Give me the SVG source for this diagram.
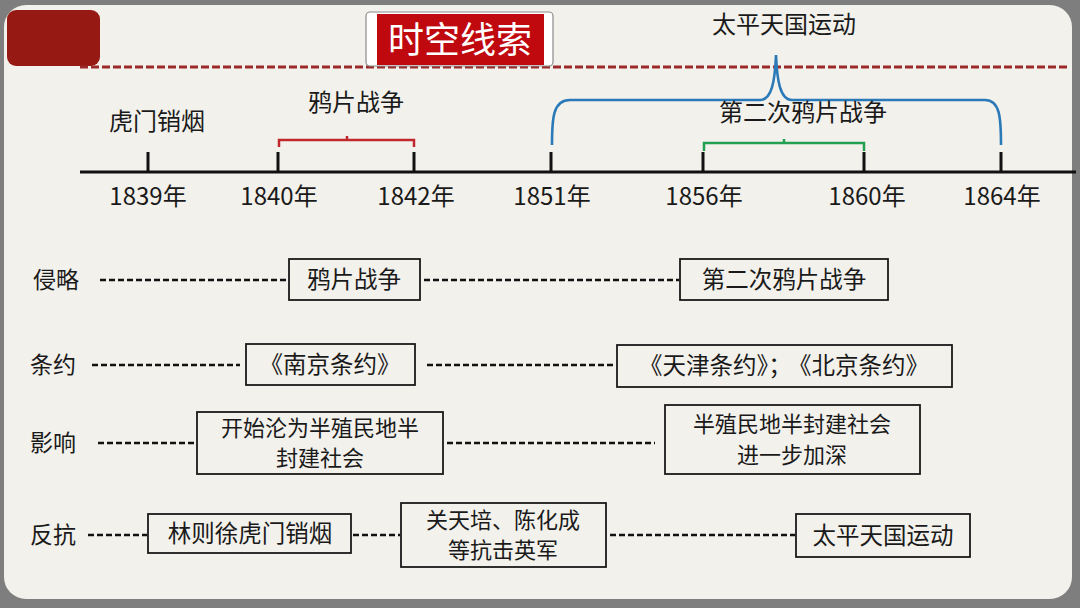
<svg xmlns="http://www.w3.org/2000/svg" width="1080" height="608" viewBox="0 0 1080 608">
<defs>
<style>
text{font-family:"Noto Sans CJK SC","Noto Sans",sans-serif;fill:#1a1a1a;}
.lbl{font-size:23px;}
.yr{font-size:24px;text-anchor:middle;}
.ev{font-size:24px;text-anchor:middle;}
.bt{font-size:23.5px;text-anchor:middle;}
.bt2{font-size:22px;text-anchor:middle;}
.box{fill:#f3f1ec;stroke:#1a1a1a;stroke-width:1.8;}
.dash{stroke:#111;stroke-width:2.6;stroke-dasharray:6 3;fill:none;}
.tick{stroke:#111;stroke-width:3;}
</style>
</defs>
<rect x="0" y="0" width="1080" height="608" fill="#7e7e7e"/>
<rect x="4" y="5" width="1068" height="594" rx="22" fill="#f3f1ec"/>
<rect x="7" y="10" width="93" height="56" rx="9" fill="#961a13"/>
<line x1="80" y1="67" x2="1068" y2="67" stroke="#9b2b2b" stroke-width="3" stroke-dasharray="8 3"/>
<g id="title">
<rect x="366" y="12" width="187" height="54" rx="4" fill="#ffffff" stroke="#8a8a8a" stroke-width="1.2"/>
<rect x="377" y="14" width="167" height="51" fill="#c0080f"/>
<text x="460" y="53" font-size="36" text-anchor="middle" style="fill:#ffffff">时空线索</text>
</g>
<g id="timeline">
<line x1="80" y1="172" x2="1076" y2="172" stroke="#111" stroke-width="3.2"/>
<line class="tick" x1="148" y1="152" x2="148" y2="172"/>
<line class="tick" x1="278" y1="152" x2="278" y2="172"/>
<line class="tick" x1="414" y1="152" x2="414" y2="172"/>
<line class="tick" x1="551" y1="152" x2="551" y2="172"/>
<line class="tick" x1="703" y1="152" x2="703" y2="172"/>
<line class="tick" x1="864" y1="152" x2="864" y2="172"/>
<line class="tick" x1="1001" y1="152" x2="1001" y2="172"/>
<text class="yr" x="148" y="205">1839年</text>
<text class="yr" x="279" y="205">1840年</text>
<text class="yr" x="416" y="205">1842年</text>
<text class="yr" x="552" y="205">1851年</text>
<text class="yr" x="704" y="205">1856年</text>
<text class="yr" x="867" y="205">1860年</text>
<text class="yr" x="1002" y="205">1864年</text>
<text class="ev" x="157" y="130">虎门销烟</text>
<text class="ev" x="356" y="111">鸦片战争</text>
<path d="M279,147 L279,140 L414,140 L414,147 M347,140 L347,136" fill="none" stroke="#c0282d" stroke-width="2.5"/>
<path d="M704,151 L704,143 L864,143 L864,151 M784,143 L784,139" fill="none" stroke="#22a050" stroke-width="2.5"/>
<path d="M552,145 C552,118 553,100 570,100 L760,100 C772,100 775,80 776,55 C777,80 780,100 792,100 L985,100 C1000,100 1001,118 1001,145" fill="none" stroke="#2a7ab8" stroke-width="2.6"/>
<text class="ev" x="784" y="33">太平天国运动</text>
<text class="ev" x="803" y="121">第二次鸦片战争</text>
</g>
<g id="connectors">
<line class="dash" x1="100" y1="280" x2="286" y2="280"/>
<line class="dash" x1="424" y1="280" x2="679" y2="280"/>
<line class="dash" x1="92" y1="365" x2="240" y2="365"/>
<line class="dash" x1="427" y1="365" x2="615" y2="365"/>
<line class="dash" x1="98" y1="443" x2="196" y2="443"/>
<line class="dash" x1="447" y1="443" x2="655" y2="443"/>
<line class="dash" x1="88" y1="535" x2="147" y2="535"/>
<line class="dash" x1="353" y1="535" x2="400" y2="535"/>
<line class="dash" x1="610" y1="535" x2="795" y2="535"/>
</g>
<g id="row-labels">
<text class="lbl" x="33" y="288">侵略</text>
<text class="lbl" x="30" y="373">条约</text>
<text class="lbl" x="30" y="451">影响</text>
<text class="lbl" x="30" y="543">反抗</text>
</g>
<g id="n-yapian"><rect class="box" x="289" y="259" width="131" height="41"/><text class="bt" x="354" y="288">鸦片战争</text></g>
<g id="n-dierci"><rect class="box" x="680" y="259" width="208" height="41"/><text class="bt" x="784" y="288">第二次鸦片战争</text></g>
<g id="n-nanjing"><rect class="box" x="246" y="344" width="169" height="41"/><text class="bt" x="330" y="373">《南京条约》</text></g>
<g id="n-tianjin"><rect class="box" x="617" y="345" width="335" height="42"/><text class="bt" x="784" y="374">《天津条约》；<tspan dx="8">《北京条约》</tspan></text></g>
<g id="n-kaishi"><rect class="box" x="197" y="412" width="246" height="62"/><text class="bt2" x="320" y="436">开始沦为半殖民地半</text><text class="bt2" x="320" y="466">封建社会</text></g>
<g id="n-jiashen"><rect class="box" x="665" y="405" width="255" height="69"/><text class="bt2" x="792" y="432">半殖民地半封建社会</text><text class="bt2" x="792" y="463">进一步加深</text></g>
<g id="n-linzexu"><rect class="box" x="148" y="514" width="203" height="39"/><text class="bt" x="250" y="542">林则徐虎门销烟</text></g>
<g id="n-guantianpei"><rect class="box" x="401" y="503" width="205" height="64"/><text class="bt2" x="503" y="528">关天培、陈化成</text><text class="bt2" x="503" y="558">等抗击英军</text></g>
<g id="n-taiping"><rect class="box" x="796" y="514" width="174" height="43"/><text class="bt" x="883" y="544">太平天国运动</text></g>
</svg>
